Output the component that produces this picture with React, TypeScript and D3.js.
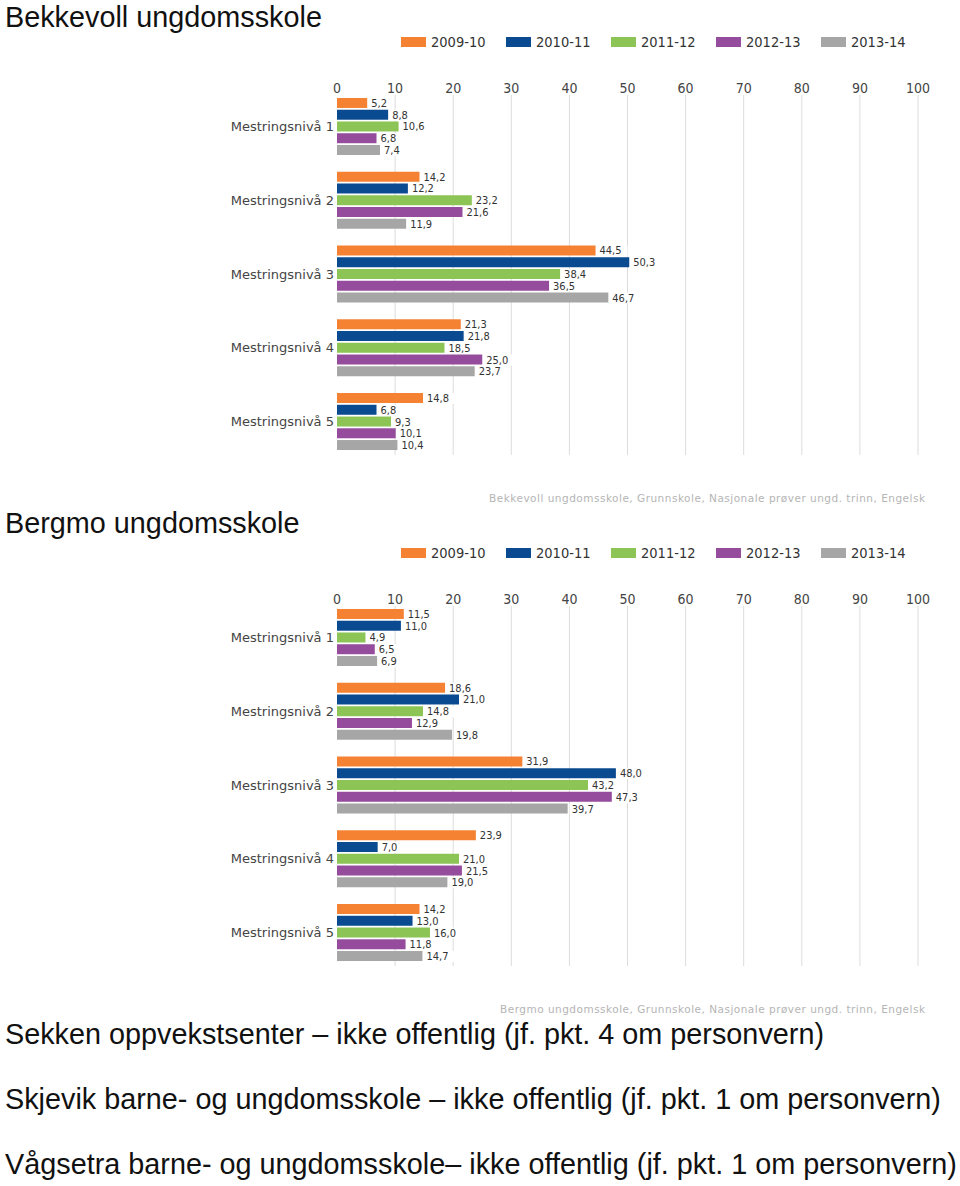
import React from "react";
import * as d3 from "d3";

const levels = ["Mestringsnivå 1", "Mestringsnivå 2", "Mestringsnivå 3", "Mestringsnivå 4", "Mestringsnivå 5"];
const years = ["2009-10", "2010-11", "2011-12", "2012-13", "2013-14"];
const colors = ["#F58232", "#0A4A90", "#8CC555", "#964C9C", "#A6A6A6"];
const ticks = [0, 10, 20, 30, 40, 50, 60, 70, 80, 90, 100];

// values per year, per level
const bekkevoll = [
  [5.2, 14.2, 44.5, 21.3, 14.8],
  [8.8, 12.2, 50.3, 21.8, 6.8],
  [10.6, 23.2, 38.4, 18.5, 9.3],
  [6.8, 21.6, 36.5, 25.0, 10.1],
  [7.4, 11.9, 46.7, 23.7, 10.4],
];
const bergmo = [
  [11.5, 18.6, 31.9, 23.9, 14.2],
  [11.0, 21.0, 48.0, 7.0, 13.0],
  [4.9, 14.8, 43.2, 21.0, 16.0],
  [6.5, 12.9, 47.3, 21.5, 11.8],
  [6.9, 19.8, 39.7, 19.0, 14.7],
];

const charts = [
  { title: "Bekkevoll ungdomsskole", data: bekkevoll, source: "Bekkevoll ungdomsskole, Grunnskole, Nasjonale prøver ungd. trinn, Engelsk", sourceX: 489, titleY: 27 },
  { title: "Bergmo ungdomsskole", data: bergmo, source: "Bergmo ungdomsskole, Grunnskole, Nasjonale prøver ungd. trinn, Engelsk", sourceX: 500, titleY: 22 },
];

const footers = [
  "Sekken oppvekstsenter – ikke offentlig (jf. pkt. 4 om personvern)",
  "Skjevik barne- og ungdomsskole – ikke offentlig (jf. pkt. 1 om personvern)",
  "Vågsetra barne- og ungdomsskole– ikke offentlig (jf. pkt. 1 om personvern)",
];

const fmt = (v: number) => d3.format(".1f")(v).replace(".", ",");
const NARROW = "'Liberation Sans Narrow', 'DejaVu Sans Condensed', 'Liberation Sans', sans-serif";
const BIG = "'Liberation Sans', Arial, sans-serif";

function Chart({ chart, dy }: { chart: typeof charts[0]; dy: number }) {
  const x = d3.scaleLinear().domain([0, 100]).range([337, 918]);
  const y = d3.scaleBand().domain(levels).range([89.6 + dy, 458.4 + dy]).padding(0);
  const legendX = d3.scaleBand().domain(years).range([401, 926]);
  return (
    <g>
      <text x={5} y={dy + chart.titleY} fontFamily={BIG} fontSize={28.8} fill="#111">{chart.title}</text>
      {years.map((yr, i) => (
        <g key={yr}>
          <rect x={legendX(yr)} y={dy + 37} width={25} height={10} fill={colors[i]} />
          <text x={(legendX(yr) as number) + 30} y={dy + 46.5} fontFamily={NARROW} fontSize={14.5} fill="#333">{yr}</text>
        </g>
      ))}
      {ticks.map((t) => (
        <g key={t}>
          {t > 0 && <line x1={x(t)} x2={x(t)} y1={dy + 95} y2={dy + 455} stroke="#DCDCDC" strokeWidth={1} />}
          <text x={x(t)} y={dy + 93} textAnchor="middle" fontFamily={NARROW} fontSize={14} fill="#444">{t}</text>
        </g>
      ))}
      {levels.map((lv, li) => {
        const c = (y(lv) as number) + y.bandwidth() / 2;
        const inner = d3.scaleBand().domain(years).range([c - 28.5, c + 28.5]).paddingInner(0.15);
        return (
          <g key={lv}>
            <text x={334} y={c + 4.5} textAnchor="end" fontFamily="'DejaVu Sans', Verdana, sans-serif" fontSize={13} fill="#444">{lv}</text>
            {years.map((yr, yi) => {
              const v = chart.data[yi][li];
              const by = inner(yr) as number;
              const bw = inner.bandwidth();
              const label = fmt(v);
              return (
                <g key={yr}>
                  <rect x={x(0)} y={by} width={x(v) - x(0)} height={bw} fill={colors[yi]} />
                  <rect x={x(v) + 2} y={by} width={label.length * 6 + 6} height={bw + 1} fill="#fff" />
                  <text x={x(v) + 4} y={by + bw / 2 + 4} fontFamily={NARROW} fontSize={11} fill="#333">{label}</text>
                </g>
              );
            })}
          </g>
        );
      })}
      <text x={chart.sourceX} y={dy + 502} textLength={925 - chart.sourceX} lengthAdjust="spacing" fontFamily="'DejaVu Sans', Verdana, sans-serif" fontSize={10.5} fill="#B5B5B5">{chart.source}</text>
    </g>
  );
}

export default function App() {
  return (
    <svg width={960} height={1186} style={{ position: "absolute", left: 0, top: 0, background: "#fff" }}>
      <rect width={960} height={1186} fill="#fff" />
      {charts.map((ch, i) => (
        <Chart key={ch.title} chart={ch} dy={i * 511} />
      ))}
      {footers.map((f, i) => (
        <text key={i} x={5} y={1044 + i * 65} fontFamily={BIG} fontSize={28.8} fill="#111">{f}</text>
      ))}
    </svg>
  );
}
